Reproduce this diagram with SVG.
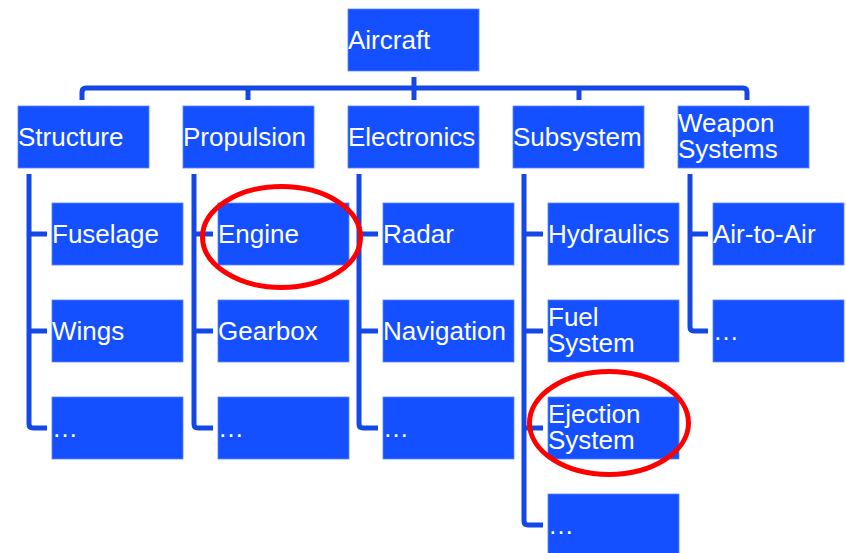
<svg xmlns="http://www.w3.org/2000/svg" width="846" height="553" viewBox="0 0 846 553">
<style>
.box{fill:#1450ff;stroke:#5a86ff;stroke-width:0.8}
.t{font-family:"Liberation Sans",Arial,sans-serif;font-size:26px;fill:#ffffff}
.c{fill:none;stroke:#1448e6;stroke-width:5;stroke-linejoin:round;stroke-linecap:butt}
.hl{fill:none;stroke:#ff0000;stroke-width:5}
</style>
<rect width="846" height="553" fill="#ffffff"/>
<g id="connectors">
<path class="c" d="M82 100 V92 Q82 88 86 88 H743 Q747 88 747 92 V100"/>
<path class="c" d="M414 77 V100 M248 88 V100 M579 88 V100"/>
<path class="c" d="M29 174 V424 Q29 428 33 428 H47 M29 234 H47 M29 331 H47"/>
<path class="c" d="M194 174 V424 Q194 428 198 428 H213 M194 234 H213 M194 331 H213"/>
<path class="c" d="M359 174 V424 Q359 428 363 428 H378 M359 234 H378 M359 331 H378"/>
<path class="c" d="M524 174 V521 Q524 525 528 525 H543 M524 234 H543 M524 331 H543 M524 428 H543"/>
<path class="c" d="M690 174 V327 Q690 331 694 331 H708 M690 234 H708"/>
</g>
<g id="aircraft"><rect class="box" x="348" y="9" width="131" height="62"/><text class="t" x="348" y="49">Aircraft</text></g>
<g id="structure"><rect class="box" x="18" y="106" width="131" height="62"/><text class="t" x="18" y="146">Structure</text></g>
<g id="propulsion"><rect class="box" x="183" y="106" width="131" height="62"/><text class="t" x="183" y="146">Propulsion</text></g>
<g id="electronics"><rect class="box" x="348" y="106" width="131" height="62"/><text class="t" x="348" y="146">Electronics</text></g>
<g id="subsystem"><rect class="box" x="513" y="106" width="131" height="62"/><text class="t" x="513" y="146">Subsystem</text></g>
<g id="weapon"><rect class="box" x="678" y="106" width="131" height="62"/><text class="t" x="678" y="132">Weapon</text><text class="t" x="678" y="158">Systems</text></g>
<g id="fuselage"><rect class="box" x="52" y="203" width="131" height="62"/><text class="t" x="52" y="243">Fuselage</text></g>
<g id="wings"><rect class="box" x="52" y="300" width="131" height="62"/><text class="t" x="52" y="340">Wings</text></g>
<g id="structure-more"><rect class="box" x="52" y="397" width="131" height="62"/><text class="t" x="52" y="437">…</text></g>
<g id="engine"><rect class="box" x="218" y="203" width="131" height="62"/><text class="t" x="218" y="243">Engine</text></g>
<g id="gearbox"><rect class="box" x="218" y="300" width="131" height="62"/><text class="t" x="218" y="340">Gearbox</text></g>
<g id="propulsion-more"><rect class="box" x="218" y="397" width="131" height="62"/><text class="t" x="218" y="437">…</text></g>
<g id="radar"><rect class="box" x="383" y="203" width="131" height="62"/><text class="t" x="383" y="243">Radar</text></g>
<g id="navigation"><rect class="box" x="383" y="300" width="131" height="62"/><text class="t" x="383" y="340">Navigation</text></g>
<g id="electronics-more"><rect class="box" x="383" y="397" width="131" height="62"/><text class="t" x="383" y="437">…</text></g>
<g id="hydraulics"><rect class="box" x="548" y="203" width="131" height="62"/><text class="t" x="548" y="243">Hydraulics</text></g>
<g id="fuel"><rect class="box" x="548" y="300" width="131" height="62"/><text class="t" x="548" y="326">Fuel</text><text class="t" x="548" y="352">System</text></g>
<g id="ejection"><rect class="box" x="548" y="397" width="131" height="62"/><text class="t" x="548" y="423">Ejection</text><text class="t" x="548" y="449">System</text></g>
<g id="subsystem-more"><rect class="box" x="548" y="494" width="131" height="62"/><text class="t" x="548" y="534">…</text></g>
<g id="airtoair"><rect class="box" x="713" y="203" width="131" height="62"/><text class="t" x="713" y="243">Air-to-Air</text></g>
<g id="weapon-more"><rect class="box" x="713" y="300" width="131" height="62"/><text class="t" x="713" y="340">…</text></g>
<g id="highlights">
<ellipse class="hl" cx="281.5" cy="237" rx="79" ry="50.5"/>
<ellipse class="hl" cx="609" cy="423" rx="79.5" ry="51.5"/>
</g>
</svg>
